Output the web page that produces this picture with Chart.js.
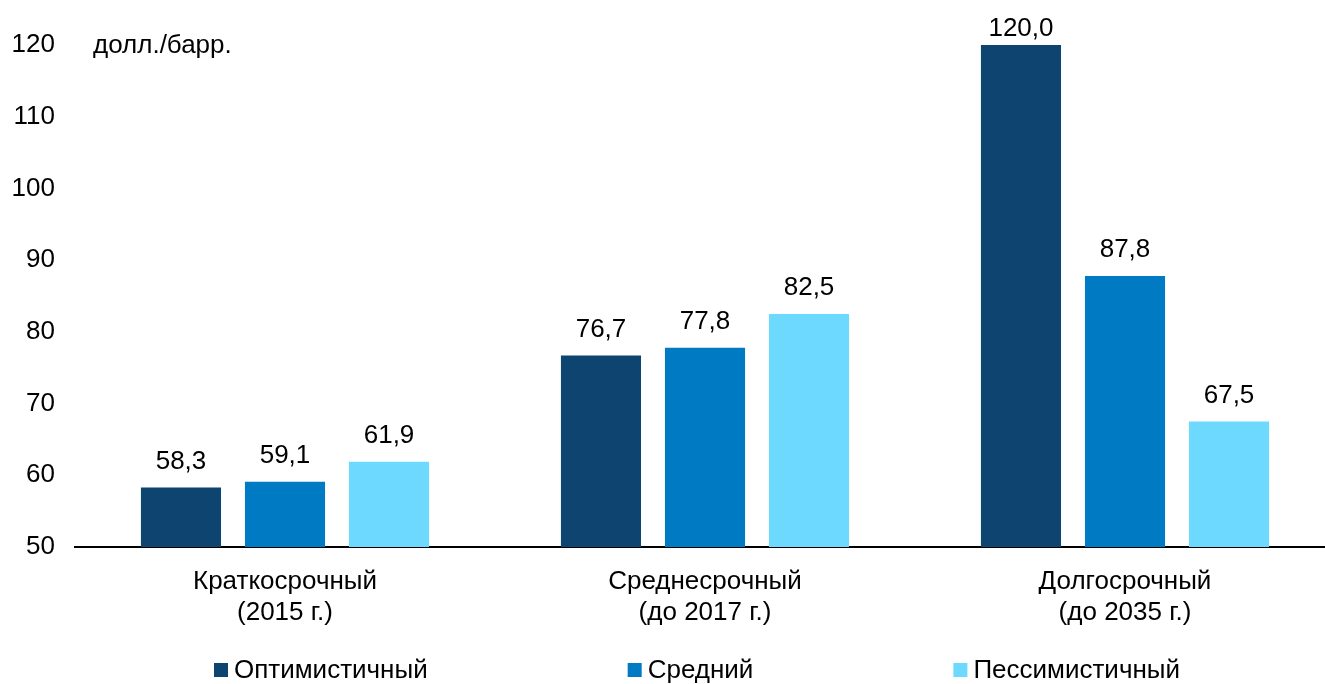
<!DOCTYPE html>
<html>
<head>
<meta charset="utf-8">
<script src="https://cdn.jsdelivr.net/npm/chart.js@4.4.0/dist/chart.umd.min.js"></script>
<style>
html,body{margin:0;padding:0;background:#fff;overflow:hidden;}
#wrap{width:1335px;height:684px;}
</style>
</head>
<body>
<div id="wrap"><canvas id="c" width="1335" height="684"></canvas></div>
<script>
const categories = [['Краткосрочный','(2015 г.)'], ['Среднесрочный','(до 2017 г.)'], ['Долгосрочный','(до 2035 г.)']];
const seriesNames = ['Оптимистичный', 'Средний', 'Пессимистичный'];
const optimistic = [58.3, 76.7, 120.0];
const average = [59.1, 77.8, 87.8];
const pessimistic = [61.9, 82.5, 67.5];
const colors = ['#0D4470', '#007AC2', '#6DD9FF'];
const unitLabel = 'долл./барр.';
const FONT = '"Liberation Sans", Arial, sans-serif';

const fmt = v => v.toFixed(1).replace('.', ',');

const labelPlugin = {
  id: 'extras',
  afterDatasetsDraw(chart) {
    const ctx = chart.ctx;
    ctx.save();
    ctx.font = '26px ' + FONT;
    ctx.fillStyle = '#000';
    ctx.textAlign = 'center';
    ctx.textBaseline = 'middle';
    chart.data.datasets.forEach((ds, i) => {
      chart.getDatasetMeta(i).data.forEach((bar, j) => {
        const y = Math.max(bar.y - 26, 29);
        ctx.fillText(fmt(ds.data[j]), bar.x, y);
      });
    });
    // unit label
    ctx.textAlign = 'left';
    ctx.fillText(unitLabel, 93, chart.scales.y.getPixelForValue(120) + 1);
    // legend (centered, fixed gap between items)
    ctx.font = '26px ' + FONT;
    const box = 14, boxGap = 6, itemGap = 200;
    const widths = chart.data.datasets.map(ds => box + boxGap + ctx.measureText(ds.label).width);
    const total = widths.reduce((a, b) => a + b, 0) + itemGap * (widths.length - 1);
    let cx = 697 - total / 2;
    const cy = 670;
    chart.data.datasets.forEach((ds, i) => {
      ctx.fillStyle = ds.backgroundColor;
      ctx.fillRect(cx, cy - 7, box, box);
      ctx.fillStyle = '#000';
      ctx.textAlign = 'left';
      ctx.fillText(ds.label, cx + box + boxGap, cy + 1);
      cx += widths[i] + itemGap;
    });
    ctx.restore();
  }
};

new Chart(document.getElementById('c'), {
  type: 'bar',
  data: {
    labels: categories,
    datasets: [
      { label: seriesNames[0], data: optimistic, backgroundColor: colors[0] },
      { label: seriesNames[1], data: average, backgroundColor: colors[1] },
      { label: seriesNames[2], data: pessimistic, backgroundColor: colors[2] }
    ]
  },
  options: {
    responsive: false,
    animation: false,
    devicePixelRatio: 1,
    layout: { padding: { top: 45, left: 0, right: 0, bottom: 0 } },
    datasets: { bar: { categoryPercentage: 0.743, barPercentage: 0.77 } },
    plugins: { legend: { display: false }, tooltip: { enabled: false } },
    scales: {
      x: {
        grid: { display: false, drawTicks: false },
        border: { display: true, color: '#000', width: 2 },
        ticks: { color: '#000', font: { family: FONT, size: 26, lineHeight: 1.17 }, padding: 20, maxRotation: 0 },
        afterFit(s) { s.height = 137; }
      },
      y: {
        min: 50, max: 120,
        grid: { display: false, drawTicks: false },
        border: { display: false },
        ticks: { stepSize: 10, color: '#000', font: { family: FONT, size: 26 }, padding: 20 },
        afterFit(s) { s.width = 75; }
      }
    }
  },
  plugins: [labelPlugin]
});
</script>
</body>
</html>
